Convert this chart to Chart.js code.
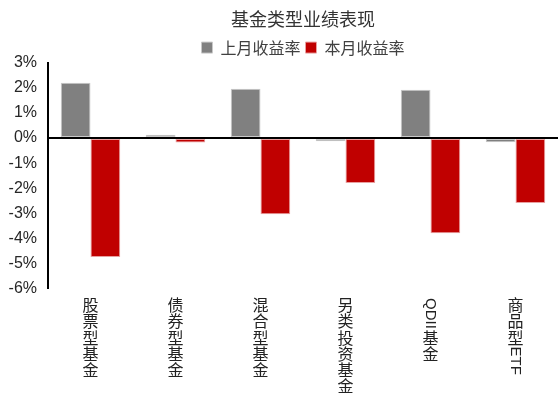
<!DOCTYPE html>
<html>
<head>
<meta charset="utf-8">
<script src="https://cdn.jsdelivr.net/npm/chart.js@4"></script>
<style>
  html, body { margin: 0; padding: 0; background: #fff; }
  #wrap { width: 558px; height: 403px; }
</style>
</head>
<body>
<div id="wrap"><canvas id="c" width="558" height="403"></canvas></div>
<script>
// fund categories and returns (%)
const categories = ['股票型基金', '债券型基金', '混合型基金', '另类投资基金', 'QDII基金', '商品型ETF'];
const lastMonth = [2.2, 0.13, 1.96, -0.13, 1.92, -0.17];
const thisMonth = [-4.73, -0.18, -3.03, -1.79, -3.78, -2.58];
const yTicks = [3, 2, 1, 0, -1, -2, -3, -4, -5, -6];

const cjk = '"Noto Sans CJK SC", "Microsoft YaHei", sans-serif';
const latin = '"Liberation Sans", Arial, sans-serif';

// draws category names top-to-bottom: CJK upright, latin runs turned 90deg
const verticalText = {
    id: 'verticalText',
    afterDraw(chart) {
        const xs = chart.scales.x;
        const ctx = chart.ctx;
        const pitch = 16.2;
        ctx.save();
        ctx.fillStyle = '#222';
        ctx.textBaseline = 'middle';
        xs.ticks.forEach((t, i) => {
            const x = xs.getPixelForTick(i);
            let y = xs.top + 8;
            const runs = categories[i].match(/[A-Za-z]+|[^A-Za-z]/g);
            runs.forEach(run => {
                if (/^[A-Za-z]/.test(run)) {
                    ctx.font = '15px ' + latin;
                    const w = ctx.measureText(run).width;
                    ctx.save();
                    ctx.translate(x, y);
                    ctx.rotate(Math.PI / 2);
                    ctx.textAlign = 'left';
                    ctx.fillText(run, 1, 0);
                    ctx.restore();
                    y += w + 2;
                } else {
                    ctx.font = '16px ' + cjk;
                    ctx.textAlign = 'center';
                    ctx.fillText(run, x, y + pitch / 2);
                    y += pitch;
                }
            });
        });
        ctx.restore();
    }
};

const chart = new Chart(document.getElementById('c'), {
    type: 'bar',
    data: {
        labels: categories,
        datasets: [
            {
                label: '上月收益率',
                data: lastMonth,
                backgroundColor: '#808080',
                borderColor: '#c8c8c8',
                borderWidth: 1,
                borderSkipped: false
            },
            {
                label: '本月收益率',
                data: thisMonth,
                backgroundColor: '#c00000',
                borderColor: '#e8a0a0',
                borderWidth: 1,
                borderSkipped: false
            }
        ]
    },
    options: {
        responsive: false,
        animation: false,
        layout: { padding: { top: 6, right: 0, left: 0, bottom: 0 } },
        datasets: {
            bar: { categoryPercentage: 0.7, barPercentage: 1.0 }
        },
        plugins: {
            title: {
                display: true,
                text: '基金类型业绩表现',
                color: '#333',
                font: { family: cjk, size: 18, weight: 'normal' },
                padding: { top: 0, bottom: 4 }
            },
            legend: {
                display: true,
                labels: {
                    color: '#404040',
                    boxWidth: 11,
                    boxHeight: 11,
                    padding: 5,
                    font: { family: cjk, size: 16 }
                }
            },
            tooltip: { enabled: false }
        },
        scales: {
            x: {
                grid: { display: false },
                border: { display: false },
                ticks: { display: false },
                afterFit: scale => { scale.height = 114; }
            },
            y: {
                min: -6,
                max: 3,
                afterBuildTicks: scale => {
                    scale.ticks = yTicks.map(v => ({ value: v }));
                },
                grid: {
                    drawTicks: false,
                    color: ctx => ctx.tick && ctx.tick.value === 0 ? '#000' : 'rgba(0,0,0,0)',
                    lineWidth: ctx => ctx.tick && ctx.tick.value === 0 ? 2 : 0
                },
                border: { display: true, color: '#000', width: 2 },
                ticks: {
                    color: '#262626',
                    padding: 11,
                    font: { family: latin, size: 16 },
                    callback: v => v + '%'
                },
                afterFit: scale => { scale.width = 48; }
            }
        }
    },
    plugins: [verticalText]
});

// the title and legend sit a little right of centre in the original
[[chart.titleBlock, 2], [chart.legend, 3]].forEach(([box, dy]) => {
    const orig = box.draw.bind(box);
    box.draw = function (area) {
        const ctx = chart.ctx;
        ctx.save();
        ctx.translate(24, dy);
        orig(area);
        ctx.restore();
    };
});
chart.draw();
</script>
</body>
</html>
